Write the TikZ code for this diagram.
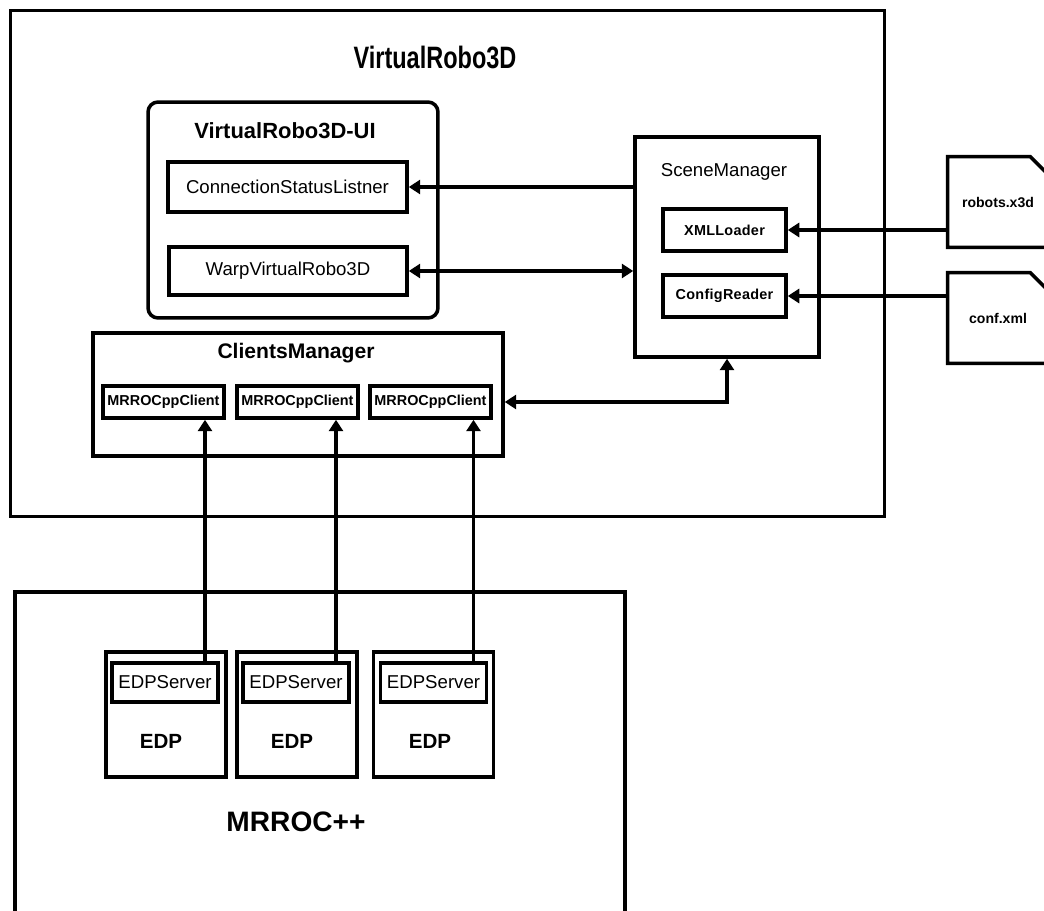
\documentclass[tikz,border=0pt]{standalone}
\usepackage{fontspec}
\setmainfont{Liberation Sans}
\usepackage{graphicx}
\usetikzlibrary{arrows.meta, positioning, calc}

\begin{document}
\begin{tikzpicture}[x=0.02cm, y=-0.02cm,
    every node/.style={font=\fontsize{10.6}{12}\selectfont},
    frame/.style={draw, rectangle, line width=2pt, inner sep=0pt},
    compbox/.style={draw, rectangle, line width=2pt, inner sep=0pt, font=\fontsize{10.6}{12}\selectfont},
    smallbox/.style={draw, rectangle, line width=2pt, inner sep=0pt, font=\fontsize{8.2}{10}\selectfont\bfseries},
    filebox/.style={rectangle, inner sep=0pt, minimum width=2.0cm, minimum height=1.8cm, font=\fontsize{8}{10}\selectfont\bfseries},
    title/.style={font=\fontsize{12.5}{14}\selectfont\bfseries},
    arrow/.style={-{Triangle[length=2.3mm, width=2.8mm]}, line width=2pt},
    dblarrow/.style={{Triangle[length=2.3mm, width=2.8mm]}-{Triangle[length=2.3mm, width=2.8mm]}, line width=2pt},
    fileline/.style={line width=2pt, line join=miter}
]
    \useasboundingbox (0,0) rectangle (1044,911);

    % VirtualRobo3D
    \node (vr) [frame, minimum width=17.48cm, minimum height=10.12cm] at (447.5,263.5) {};
    \node (vrtitle) [font=\fontsize{17.6}{20}\selectfont\bfseries] at (435,57) {\scalebox{0.76}[1]{VirtualRobo3D}};

    % UI
    \node (ui) [frame, rounded corners=0.2cm, minimum width=5.8cm, minimum height=4.32cm] at (293,210) {};
    \node (uititle) [title] at (285,131) {VirtualRobo3D-UI};
    \node (csl) [compbox, minimum width=4.78cm, minimum height=1.0cm] at (287.5,187) {ConnectionStatusListner};
    \node (warp) [compbox, minimum width=4.76cm, minimum height=0.96cm] at (288,271) {WarpVirtualRobo3D};

    % SceneManager
    \node (scene) [frame, minimum width=3.68cm, minimum height=4.4cm] at (727,247) {};
    \node (scenetitle) at (724,172) {SceneManager};
    \node (xml) [smallbox, minimum width=2.46cm, minimum height=0.84cm] at (724.5,230) {\addfontfeatures{LetterSpace=2}XMLLoader};
    \node (cfg) [smallbox, minimum width=2.46cm, minimum height=0.84cm] at (724.5,296) {\addfontfeatures{LetterSpace=2}ConfigReader};

    % Files
    \node (robots) [filebox] at (998,202) {robots.x3d};
    \node (conf) [filebox] at (998,318) {conf.xml};
    \draw [fileline] (robots.south west) |- ($(robots.north east)+(-18,0)$) -- ($(robots.north east)+(0,18)$) -- (robots.south east) -- cycle;
    \draw [fileline] (conf.south west) |- ($(conf.north east)+(-18,0)$) -- ($(conf.north east)+(0,18)$) -- (conf.south east) -- cycle;

    % ClientsManager
    \node (cm) [frame, minimum width=8.2cm, minimum height=2.46cm] at (298,394.5) {};
    \node (cmtitle) [title, font=\fontsize{12}{14}\selectfont\bfseries] at (296,353) {ClientsManager};
    \node (c1) [smallbox, minimum width=2.42cm, minimum height=0.64cm] at (163.5,402) {MRROCppClient};
    \node (c2) [smallbox, minimum width=2.42cm, minimum height=0.64cm] at (297.5,402) {MRROCppClient};
    \node (c3) [smallbox, minimum width=2.42cm, minimum height=0.64cm] at (430.5,402) {MRROCppClient};

    % MRROC++
    \node (mrroc) [frame, minimum width=12.2cm, minimum height=6.76cm] at (320,761) {};
    \node (mrroctitle) [font=\fontsize{16}{18}\selectfont\bfseries] at (296,822) {MRROC++};
    \node (edp1) [frame, minimum width=2.4cm, minimum height=2.5cm] at (166,714.5) {};
    \node (edp2) [frame, minimum width=2.4cm, minimum height=2.5cm] at (297,714.5) {};
    \node (edp3) [frame, minimum width=2.4cm, minimum height=2.5cm] at (433.5,714.5) {};
    \node (srv1) [compbox, minimum width=2.12cm, minimum height=0.78cm] at (165,682.5) {EDPServer};
    \node (srv2) [compbox, minimum width=2.12cm, minimum height=0.78cm] at (296,682.5) {EDPServer};
    \node (srv3) [compbox, minimum width=2.12cm, minimum height=0.78cm] at (433.5,682.5) {EDPServer};
    \node (edplabel1) [font=\fontsize{11.7}{13}\selectfont\bfseries] at (161,741) {EDP};
    \node (edplabel2) [font=\fontsize{11.7}{13}\selectfont\bfseries] at (292,741) {EDP};
    \node (edplabel3) [font=\fontsize{11.7}{13}\selectfont\bfseries] at (430,741) {EDP};

    % Flows
    \draw [arrow] (scene.west |- csl) -- (csl.east);
    \draw [dblarrow] (warp.east) -- (scene.west |- warp);
    \draw [arrow] (robots.west |- xml) -- (xml.east);
    \draw [arrow] (conf.west |- cfg) -- (cfg.east);
    \draw [dblarrow] (cm.east |- c3) -| (scene.south);

    % Server to client flows
    \draw [arrow] ([xshift=0.8cm]srv1.north) -- ([xshift=0.8cm]srv1.north |- c1.south);
    \draw [arrow] ([xshift=0.8cm]srv2.north) -- ([xshift=0.8cm]srv2.north |- c2.south);
    \draw [arrow] ([xshift=0.8cm]srv3.north) -- ([xshift=0.8cm]srv3.north |- c3.south);

\end{tikzpicture}
\end{document}
